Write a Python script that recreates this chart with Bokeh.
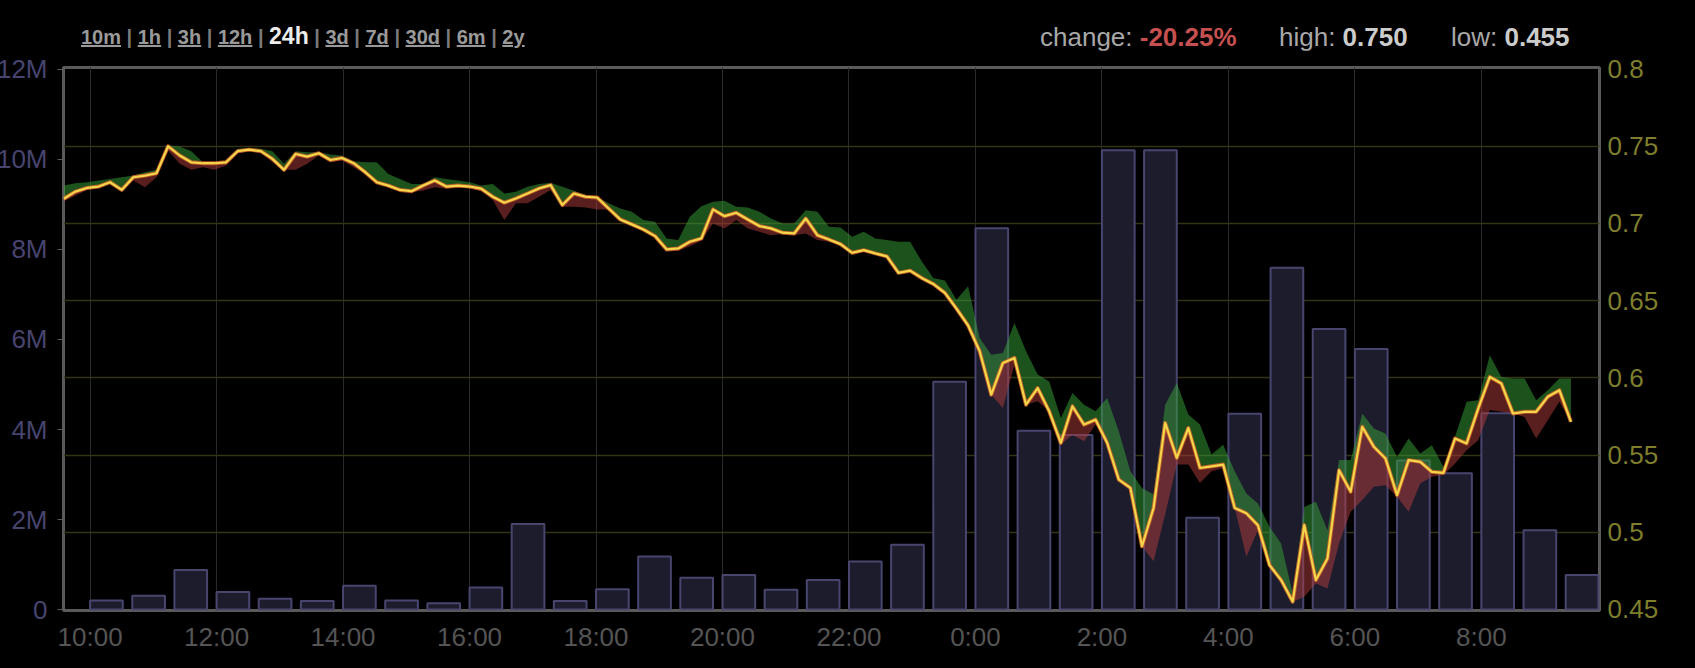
from bokeh.plotting import figure
from bokeh.models import Range1d, LinearAxis, FixedTicker, Grid, Div
from bokeh.layouts import column
from bokeh.embed import file_html
from bokeh.resources import INLINE

# ---------------- data ----------------
price_start = "09:35"      # time of first price sample
price_step_min = 11        # minutes between price samples

price = [0.716, 0.7206, 0.723, 0.7239, 0.7267, 0.7217, 0.7299, 0.731, 0.7325, 0.75,
         0.744, 0.7396, 0.739, 0.739, 0.7396, 0.7468, 0.7478, 0.7468, 0.7418, 0.7347,
         0.745, 0.7433, 0.7455, 0.7411, 0.7424, 0.739, 0.7332, 0.7267, 0.7245, 0.7217,
         0.7209, 0.7245, 0.7278, 0.7239, 0.7245, 0.7239, 0.7225,
         0.7173, 0.7134, 0.7162, 0.7194, 0.7227, 0.7248, 0.7119, 0.7194, 0.7173, 0.7168,
         0.7097, 0.7026, 0.6994, 0.6961, 0.6918, 0.6832, 0.6838, 0.6881, 0.6903, 0.7091,
         0.7047, 0.7069, 0.7026, 0.6983, 0.6968, 0.694, 0.6935, 0.7032, 0.6924, 0.6896,
         0.6866, 0.681, 0.6827, 0.6806, 0.6787, 0.668, 0.6694,
         0.6647, 0.6608, 0.655, 0.6448, 0.634, 0.6172, 0.5891, 0.6096, 0.6129, 0.5826,
         0.5934, 0.5783, 0.5578, 0.5816, 0.5697, 0.5729, 0.5578, 0.5341, 0.5287, 0.4909,
         0.5157, 0.5708, 0.5481, 0.5675, 0.5416, 0.5427, 0.5438, 0.5157,
         0.5123, 0.5045, 0.4787, 0.469, 0.455, 0.5046, 0.469, 0.483, 0.5402, 0.5262,
         0.5683, 0.5553, 0.5478, 0.524, 0.5467, 0.5456, 0.5391, 0.5385, 0.5607, 0.5575,
         0.5801, 0.6006, 0.5963, 0.5769, 0.578, 0.578, 0.5877, 0.592, 0.5715]

price_upper = [0.7245, 0.726, 0.7267, 0.7278, 0.7288, 0.7299, 0.731, 0.7332, 0.7347, 0.7504,
               0.7498, 0.7468, 0.7396, 0.739, 0.7407, 0.7483, 0.7489, 0.7483, 0.7468, 0.7386,
               0.7468, 0.7461, 0.7461, 0.7446, 0.744, 0.7403, 0.7396, 0.7396, 0.7321, 0.7288,
               0.7256, 0.7256, 0.7299, 0.7288, 0.7278, 0.7267, 0.7245,
               0.7255, 0.7194, 0.7205, 0.7237, 0.7255, 0.7263, 0.7237, 0.7212, 0.7184, 0.7173,
               0.713, 0.7097, 0.7076, 0.7022, 0.7011, 0.6903, 0.6892, 0.7043, 0.7112, 0.714,
               0.7147, 0.7108, 0.7104, 0.7076, 0.7032, 0.7, 0.7, 0.7086, 0.7076, 0.6978,
               0.6974, 0.6914, 0.6946, 0.6903, 0.6892, 0.6881, 0.6881,
               0.6755, 0.6647, 0.663, 0.6506, 0.6593, 0.6258, 0.615, 0.6161, 0.6355, 0.6172,
               0.6021, 0.5977, 0.574, 0.5902, 0.5826, 0.5783, 0.587, 0.5654, 0.5395, 0.5287,
               0.5244, 0.5826, 0.5967, 0.5762, 0.5697, 0.5503, 0.5567, 0.5395,
               0.5251, 0.5186, 0.5035, 0.4927, 0.4603, 0.5164, 0.5197, 0.5013, 0.5467, 0.5467,
               0.5769, 0.5672, 0.5639, 0.5488, 0.5607, 0.551, 0.5564, 0.5424, 0.5618, 0.5845,
               0.5855, 0.6147, 0.6006, 0.5996, 0.5996, 0.5855, 0.592, 0.5996, 0.5996]

price_lower = [0.7144, 0.718, 0.7217, 0.7239, 0.7267, 0.7217, 0.7278, 0.7234, 0.7299, 0.7472,
               0.7386, 0.7347, 0.7364, 0.7347, 0.7375, 0.7455, 0.7468, 0.7461, 0.7396, 0.7347,
               0.7347, 0.7386, 0.744, 0.7396, 0.7407, 0.7364, 0.7321, 0.7256, 0.7234, 0.7209,
               0.7202, 0.7213, 0.7234, 0.7224, 0.723, 0.723, 0.7209,
               0.7151, 0.7022, 0.713, 0.713, 0.7173, 0.7216, 0.7108, 0.7108, 0.7104, 0.7091,
               0.7091, 0.7022, 0.6989, 0.6957, 0.6914, 0.6816, 0.6823, 0.6853, 0.6888, 0.7,
               0.6968, 0.7022, 0.6968, 0.6946, 0.6924, 0.6931, 0.6924, 0.6935, 0.6892, 0.6881,
               0.686, 0.6795, 0.6816, 0.6795, 0.6773, 0.6672, 0.6687,
               0.6636, 0.6599, 0.6539, 0.6431, 0.6323, 0.6172, 0.5891, 0.5805, 0.6085, 0.5826,
               0.5848, 0.5783, 0.5567, 0.5632, 0.5589, 0.5697, 0.5578, 0.5341, 0.5287, 0.4909,
               0.4812, 0.5114, 0.5438, 0.5438, 0.5319, 0.5395, 0.5416, 0.5157,
               0.4841, 0.5013, 0.4787, 0.469, 0.4548, 0.4582, 0.4668, 0.4636, 0.4927, 0.5132,
               0.5208, 0.5294, 0.5305, 0.5229, 0.5132, 0.5316, 0.5359, 0.537, 0.5445, 0.5531,
               0.5596, 0.5791, 0.578, 0.5769, 0.5747, 0.5607, 0.5726, 0.5845, 0.5715]

volume_start = "10:00"     # start of first volume bin
volume_step_min = 40       # minutes per volume bin
volume = [0.20e6, 0.31e6, 0.88e6, 0.39e6, 0.24e6, 0.19e6, 0.53e6, 0.20e6, 0.14e6, 0.49e6,
          1.90e6, 0.19e6, 0.45e6, 1.18e6, 0.71e6, 0.77e6, 0.44e6, 0.66e6, 1.07e6, 1.44e6,
          5.06e6, 8.47e6, 3.97e6, 3.88e6, 10.2e6, 10.2e6, 2.04e6, 4.35e6, 7.59e6, 6.23e6,
          5.79e6, 3.31e6, 3.03e6, 4.36e6, 1.76e6, 0.77e6]

time_tick_labels = ["10:00", "12:00", "14:00", "16:00", "18:00", "20:00",
                    "22:00", "0:00", "2:00", "4:00", "6:00", "8:00"]
volume_ticks = [0, 2e6, 4e6, 6e6, 8e6, 10e6, 12e6]
volume_tick_labels = ["0", "2M", "4M", "6M", "8M", "10M", "12M"]
price_ticks = [0.45, 0.5, 0.55, 0.6, 0.65, 0.7, 0.75, 0.8]
price_tick_labels = ["0.45", "0.5", "0.55", "0.6", "0.65", "0.7", "0.75", "0.8"]

periods = ["10m", "1h", "3h", "12h", "24h", "3d", "7d", "30d", "6m", "2y"]
active_period = "24h"
change_text = "-20.25%"
high_text = "0.750"
low_text = "0.455"

assert len(price) == len(price_upper) == len(price_lower)

# ---------------- derived positions (hours after 10:00) ----------------
def minutes(s):
    h, m = s.split(":")
    return int(h) * 60 + int(m)

T0 = minutes("10:00")
price_x = [(minutes(price_start) - T0 + i * price_step_min) / 60 for i in range(len(price))]
bar_w = 31 / 60
bar_left = [(minutes(volume_start) - T0 + j * volume_step_min) / 60 for j in range(len(volume))]
bar_right = [b + bar_w for b in bar_left]

def tick_hours(lbl):
    m = minutes(lbl) - T0
    if m < 0:
        m += 1440
    return m // 60

time_ticks = [tick_hours(l) for l in time_tick_labels]

FONT = "Liberation Sans"
AX_FS = "26px"

# ---------------- figure ----------------
p = figure(width=1695, height=618,
           x_range=Range1d(-0.4206, 23.868),
           y_range=Range1d(-0.02e6, 12.04e6),
           output_backend="svg", toolbar_location=None,
           background_fill_color="#000000", border_fill_color="#000000",
           min_border_left=71, min_border_right=88, min_border_top=17, min_border_bottom=58,
           margin=(0, 0, 0, -8))
p.outline_line_color = "#5a5a5a"
p.outline_line_width = 3

p.extra_y_ranges = {"price": Range1d(0.4493, 0.801)}

# left (volume) axis
ya = p.yaxis[0]
ya.ticker = FixedTicker(ticks=volume_ticks)
ya.major_label_overrides = dict(zip(volume_ticks, volume_tick_labels))
ya.major_label_text_font = FONT
ya.major_label_text_font_size = AX_FS
ya.major_label_text_color = "#47456f"
ya.axis_line_color = None
ya.major_tick_in = 0
ya.major_tick_out = 6
ya.major_tick_line_color = "#5a5a5a"
ya.minor_tick_line_color = None
ya.major_label_standoff = 10

# right (price) axis
ra = LinearAxis(y_range_name="price", ticker=FixedTicker(ticks=price_ticks))
ra.major_label_overrides = dict(zip(price_ticks, price_tick_labels))
ra.major_label_text_font = FONT
ra.major_label_text_font_size = AX_FS
ra.major_label_text_color = "#7e7e2c"
ra.axis_line_color = None
ra.major_tick_in = 0
ra.major_tick_out = 0
ra.minor_tick_line_color = None
ra.major_label_standoff = 8
p.add_layout(ra, "right")

# bottom (time) axis
xa = p.xaxis[0]
xa.ticker = FixedTicker(ticks=time_ticks)
xa.major_label_overrides = dict(zip(time_ticks, time_tick_labels))
xa.major_label_text_font = FONT
xa.major_label_text_font_size = AX_FS
xa.major_label_text_color = "#555555"
xa.axis_line_color = None
xa.major_tick_in = 0
xa.major_tick_out = 0
xa.minor_tick_line_color = None
xa.major_label_standoff = 11

# grids
p.xgrid.ticker = FixedTicker(ticks=time_ticks)
p.xgrid.grid_line_color = "#2a2a2a"
p.xgrid.grid_line_width = 1
p.ygrid.visible = False
pgrid = Grid(dimension=1, y_range_name="price",
             ticker=FixedTicker(ticks=price_ticks[1:-1]),
             grid_line_color="#333315", grid_line_width=1.5)
p.add_layout(pgrid)

# volume bars
p.quad(left=bar_left, right=bar_right, bottom=0, top=volume,
       fill_color="#1c1c2d", line_color="#48466f", line_width=2)

# price band
p.varea(x=price_x, y1=price, y2=price_upper, fill_color="#37a337", fill_alpha=0.5,
        y_range_name="price")
p.varea(x=price_x, y1=price_lower, y2=price, fill_color="#b23b3b", fill_alpha=0.5,
        y_range_name="price")

# price line
p.line(price_x, price, line_color="#d0602a", line_width=4, line_alpha=0.85,
       line_join="round", y_range_name="price")
p.line(price_x, price, line_color="#f3d64a", line_width=2.2,
       line_join="round", y_range_name="price")

# ---------------- header ----------------
sep = '<span style="color:#7a7a7a;font-weight:bold;"> | </span>'
parts = []
for per in periods:
    if per == active_period:
        parts.append('<span style="color:#ececec;font-size:23px;font-weight:bold;">%s</span>' % per)
    else:
        parts.append('<span style="color:#9a9a9a;font-weight:bold;text-decoration:underline;">%s</span>' % per)
links_html = sep.join(parts)

gray = "color:#a8a8a8;"
stats = [
    ("change: ", change_text, "#c65050", 1040),
    ("high: ", high_text, "#cccccc", 1279),
    ("low: ", low_text, "#cccccc", 1451),
]
stats_html = ""
for lab, val, col, left in stats:
    stats_html += ('<div style="position:absolute;left:%dpx;top:24px;font-size:26px;line-height:1;white-space:nowrap;">'
                   '<span style="%s">%s</span><span style="color:%s;font-weight:bold;">%s</span></div>'
                   % (left, gray, lab, col, val))

header_html = (
    '<div style="position:relative;width:1695px;height:50px;background:#000;'
    'font-family:\'Liberation Sans\',Arial,sans-serif;">'
    '<div style="position:absolute;left:81px;top:25px;font-size:20px;line-height:1;white-space:nowrap;">'
    + links_html + '</div>' + stats_html + '</div>'
)
header = Div(text=header_html, width=1695, height=50, margin=0)

layout = column(header, p, spacing=0)

tmpl = """{% block postamble %}<style>html, body { margin: 0 !important; padding: 0 !important; background: #000000 !important; overflow: hidden; }</style>{% endblock %}"""

open("out.html", "w").write(file_html(layout, INLINE, template=tmpl))
